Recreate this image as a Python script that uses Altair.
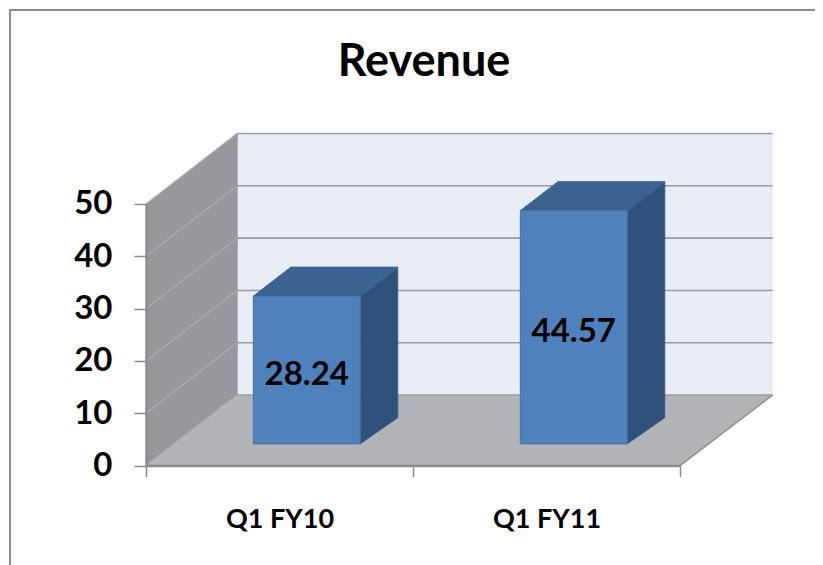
import altair as alt
import pandas as pd

categories = ["Q1 FY10", "Q1 FY11"]
values = [28.24, 44.57]
y_ticks = [0, 10, 20, 30, 40, 50]

# projection of the 3-D box, in data units
WALL_DX, WALL_DY = 0.341, 13.48
BACK_EXTRA = 0.006
BAR_DX, BAR_DY_TOP, BAR_DY_BASE = 0.141, 5.55, 5.0
BAR_START, BAR_WIDTH, BAR_BASE = 0.402, 0.40, 4.15
X_MAX = len(categories)
Y_MAX = y_ticks[-1]
BACK_RIGHT = X_MAX + WALL_DX + BACK_EXTRA

FONT = "Lato"
GREY = "#8c8c8c"

xs = alt.Scale(domain=[0, X_MAX], nice=False, zero=False)
ys = alt.Scale(domain=[0, Y_MAX], nice=False, zero=False)

x_expr = "datum.value == 0.5 ? '%s' : datum.value == 1.5 ? '%s' : ''" % tuple(categories)
x_axis = alt.Axis(
    values=[0, 0.5, 1, 1.5, 2], labelExpr=x_expr, grid=False, zindex=1, title=None,
    tickColor=GREY, tickWidth=1.5, tickSize=11,
    tickOpacity=alt.expr("datum.value % 1 == 0 ? 1 : 0"),
    domainColor=GREY, domainWidth=2.5,
    labelFont=FONT, labelFontWeight="bold", labelFontSize=27, labelColor="black",
    labelPadding=30, labelFlush=False, labelOverlap=False, labelBound=False,
)
y_axis = alt.Axis(
    values=y_ticks, grid=False, zindex=1, title=None,
    tickColor=GREY, tickWidth=1.5, tickSize=12,
    domainColor=GREY, domainWidth=2.5,
    labelFont=FONT, labelFontWeight="bold", labelFontSize=33, labelColor="black",
    labelPadding=22, labelOverlap=False, labelBound=False,
)

X = alt.X("x:Q", scale=xs, axis=x_axis)
Y = alt.Y("y:Q", scale=ys, axis=y_axis)
Y2 = alt.Y2("y2:Q")
X2 = alt.X2("x2:Q")

one = pd.DataFrame({"a": [0]})

# page frame (top and left only, it runs off the page)
frame_top = alt.Chart(one).mark_rule(color=GREY, strokeWidth=2).encode(
    x=alt.value(-136), x2=alt.value(690), y=alt.value(-194))
frame_left = alt.Chart(one).mark_rule(color=GREY, strokeWidth=2).encode(
    x=alt.value(-136), y=alt.value(-195), y2=alt.value(370))

# back wall
back = alt.Chart(pd.DataFrame({
    "x": [WALL_DX], "x2": [BACK_RIGHT], "y": [WALL_DY], "y2": [Y_MAX + WALL_DY]
})).mark_rect(color="#e9edf6").encode(x=X, x2=X2, y=Y, y2=Y2)

# left wall
left_wall = alt.Chart(pd.DataFrame({
    "x": [0, WALL_DX], "y": [0, WALL_DY], "y2": [Y_MAX, Y_MAX + WALL_DY]
})).mark_area(orient="vertical", color="#96989b", opacity=1).encode(x=X, y=Y, y2=Y2)

# floor
floor = alt.Chart(pd.DataFrame({
    "y": [0, WALL_DY], "x": [0, WALL_DX], "x2": [X_MAX, BACK_RIGHT]
})).mark_area(orient="horizontal", color="#b2b4b7", opacity=1).encode(y=Y, x=X, x2=X2)

# wall gridlines: slanted on the left wall, straight on the back wall
slant_rows, back_rows = [], []
for v in y_ticks:
    slant_rows += [
        {"v": v, "x": 0, "y": v},
        {"v": v, "x": WALL_DX, "y": v + WALL_DY},
    ]
    back_rows += [
        {"v": v, "x": WALL_DX, "y": v + WALL_DY},
        {"v": v, "x": BACK_RIGHT, "y": v + WALL_DY},
    ]
slant = alt.Chart(pd.DataFrame(slant_rows)).mark_line(color="#adadaf", strokeWidth=1.2).encode(
    x=X, y=Y, detail="v:N")
back_grid = alt.Chart(pd.DataFrame(back_rows)).mark_line(color="#9c9c9e", strokeWidth=1.6).encode(
    x=X, y=Y, detail="v:N")

# floor front-right edge and wall corner
edge = alt.Chart(pd.DataFrame({
    "x": [X_MAX, BACK_RIGHT], "y": [0, WALL_DY]
})).mark_line(color="#8f8f8f", strokeWidth=1.5).encode(x=X, y=Y)
corner = alt.Chart(pd.DataFrame({
    "x": [WALL_DX, WALL_DX], "y": [WALL_DY, Y_MAX + WALL_DY]
})).mark_line(color="#9c9c9e", strokeWidth=1.5).encode(x=X, y=Y, order="y:Q")

# bars
front_rows, side_rows, top_rows, label_rows = [], [], [], []
for i, (c, v) in enumerate(zip(categories, values)):
    x0 = i + BAR_START
    x1 = x0 + BAR_WIDTH
    top = BAR_BASE + v
    front_rows.append({"x": x0, "x2": x1, "y": BAR_BASE, "y2": top})
    side_rows += [
        {"c": c, "x": x1, "y": BAR_BASE, "y2": top},
        {"c": c, "x": x1 + BAR_DX, "y": BAR_BASE + BAR_DY_BASE, "y2": top + BAR_DY_TOP},
    ]
    top_rows += [
        {"c": c, "y": top, "x": x0, "x2": x1},
        {"c": c, "y": top + BAR_DY_TOP, "x": x0 + BAR_DX, "x2": x1 + BAR_DX},
    ]
    label_rows.append({"x": (x0 + x1) / 2, "y": BAR_BASE + v / 2, "t": f"{v:.2f}"})

side = alt.Chart(pd.DataFrame(side_rows)).mark_area(
    orient="vertical", color="#2f527b", opacity=1, stroke="#3a5f8c", strokeWidth=1
).encode(x=X, y=Y, y2=Y2, detail="c:N")
top_face = alt.Chart(pd.DataFrame(top_rows)).mark_area(
    orient="horizontal", color="#3b6291", opacity=1, stroke="#3f6797", strokeWidth=1
).encode(y=Y, x=X, x2=X2, detail="c:N")
front = alt.Chart(pd.DataFrame(front_rows)).mark_rect(
    color="#4f81bd", stroke="#45709f", strokeWidth=1
).encode(x=X, x2=X2, y=Y, y2=Y2)
labels = alt.Chart(pd.DataFrame(label_rows)).mark_text(
    font=FONT, fontSize=33, fontWeight="bold", color="black", dy=5
).encode(x=X, y=Y, text="t:N")

chart = alt.layer(
    frame_top, frame_left, back, left_wall, floor, slant, back_grid, edge, corner,
    side, top_face, front, labels
).properties(
    width=534, height=261.6,
    padding={"left": 138, "top": 196, "right": 135, "bottom": 99},
    autosize=alt.AutoSizeParams(type="none"),
    title=alt.TitleParams(
        text="Revenue", font=FONT, fontSize=45, fontWeight="bold", color="black",
        anchor="middle", dx=11, dy=77, offset=0,
    ),
).configure_view(stroke=None)

chart.save("out.html", embed_options={"renderer": "svg", "actions": False})
